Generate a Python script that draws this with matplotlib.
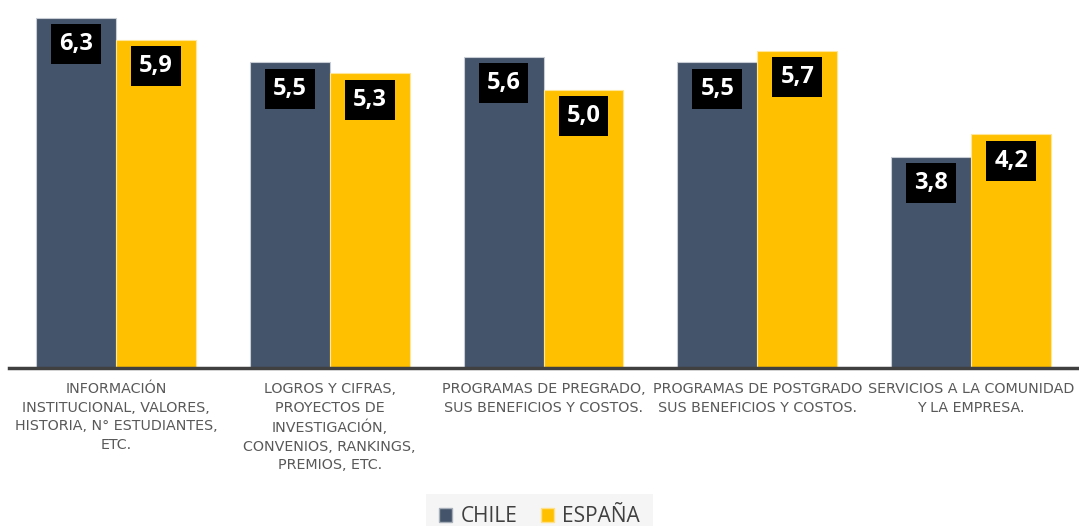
import matplotlib
matplotlib.use('Agg')
import matplotlib.pyplot as plt
import numpy as np
from matplotlib.patches import Patch

CATEGORIES = [
    "INFORMACIÓN\nINSTITUCIONAL, VALORES,\nHISTORIA, N° ESTUDIANTES,\nETC.",
    "LOGROS Y CIFRAS,\nPROYECTOS DE\nINVESTIGACIÓN,\nCONVENIOS, RANKINGS,\nPREMIOS, ETC.",
    "PROGRAMAS DE PREGRADO,\nSUS BENEFICIOS Y COSTOS.",
    "PROGRAMAS DE POSTGRADO\nSUS BENEFICIOS Y COSTOS.",
    "SERVICIOS A LA COMUNIDAD\nY LA EMPRESA.",
]
CHILE = [6.3, 5.5, 5.6, 5.5, 3.8]
ESPANA = [5.9, 5.3, 5.0, 5.7, 4.2]
SERIES = ["CHILE", "ESPAÑA"]

CHILE_COLOR = '#44546A'
ESPANA_COLOR = '#FFC000'
TEXT_COLOR = '#595959'

fig = plt.figure(figsize=(10.79, 5.26), dpi=100)
fig.patch.set_facecolor('white')
ax = fig.add_axes([9 / 1079, 1 - 368 / 526, 1069 / 1079, 358 / 526])

x = np.arange(len(CATEGORIES))
w = 0.374
bars_c = ax.bar(x - w / 2, CHILE, width=w, color=CHILE_COLOR,
                edgecolor='#C8CDD5', linewidth=0.8)
bars_e = ax.bar(x + w / 2, ESPANA, width=w, color=ESPANA_COLOR,
                edgecolor='#FFE699', linewidth=0.8)

# etiquetas de valor en caja negra
for bars, vals in ((bars_c, CHILE), (bars_e, ESPANA)):
    for bar, val in zip(bars, vals):
        ax.annotate(f"{val:.1f}".replace('.', ','),
                    xy=(bar.get_x() + bar.get_width() / 2, bar.get_height()),
                    xytext=(0, -19), textcoords='offset points',
                    ha='center', va='center', fontsize=17, fontweight='bold',
                    family='Open Sans', color='white',
                    bbox=dict(boxstyle='square,pad=0.34', fc='black', ec='none'))

ax.set_xlim(-0.5, 4.5)
ax.set_ylim(0, 358 / 55.6)
ax.set_xticks(x)
ax.set_xticklabels(CATEGORIES, fontsize=10.3, color=TEXT_COLOR,
                   linespacing=1.42, family='DejaVu Sans')
ax.tick_params(axis='x', length=0, pad=10)
ax.set_yticks([])
for side in ('top', 'right', 'left'):
    ax.spines[side].set_visible(False)
ax.spines['bottom'].set_color('#404040')
ax.spines['bottom'].set_linewidth(2.5)

handles = [Patch(facecolor=CHILE_COLOR, edgecolor='#A6AEBA'),
           Patch(facecolor=ESPANA_COLOR, edgecolor='#FFE08A')]
leg = fig.legend(handles, SERIES, loc='upper center',
                 bbox_to_anchor=(0.5, 1 - 494 / 526), ncol=2,
                 frameon=True, fancybox=False, borderaxespad=0,
                 facecolor='#F5F5F5', edgecolor='none', framealpha=1,
                 handlelength=0.65, handleheight=0.65, handletextpad=0.4,
                 columnspacing=1.1, borderpad=0.6,
                 prop={'family': 'Open Sans', 'size': 15})
for t in leg.get_texts():
    t.set_color('#404040')

fig.savefig('out.png', dpi=100)
